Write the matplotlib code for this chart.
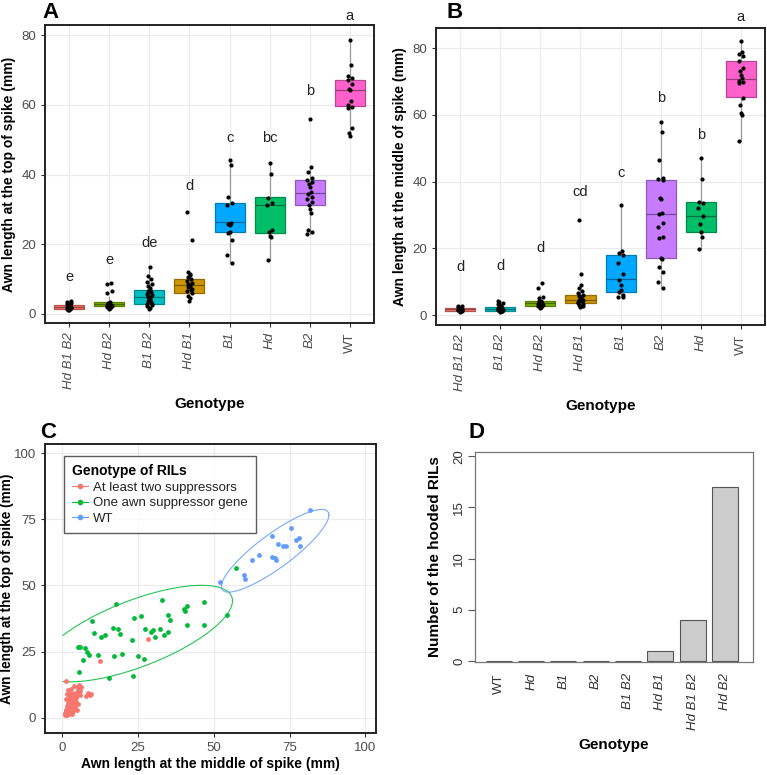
"""Awn length of RIL genotypes: boxplots (A, B), scatter with ellipses (C), hooded counts (D)."""
import matplotlib
matplotlib.use("Agg")
import matplotlib.pyplot as plt  # noqa: E402
import numpy as np  # noqa: E402
from matplotlib.lines import Line2D  # noqa: E402

plt.rcParams["font.family"] = ["Liberation Sans", "DejaVu Sans"]

GENO_COLORS = {
    "Hd B1 B2": "#F8766D", "Hd B2": "#7CAE00", "B1 B2": "#00BFC4", "Hd B1": "#CD9600",
    "B1": "#00A9FF", "Hd": "#00BE67", "B2": "#C77CFF", "WT": "#FF61CC",
}

# ---- panel A: awn length at top of spike
a_geno = ["Hd B1 B2", "Hd B2", "B1 B2", "Hd B1", "B1", "Hd", "B2", "WT"]
a_q1 = [1.5, 2.3, 3.0, 6.0, 23.5, 23.3, 31.2, 59.6]
a_med = [2.0, 2.9, 5.0, 8.2, 26.5, 31.2, 34.8, 64.3]
a_q3 = [2.6, 3.5, 7.0, 10.0, 31.7, 33.5, 38.3, 67.0]
a_wlo = [1.0, 1.5, 1.5, 3.8, 14.6, 15.5, 22.8, 51.0]
a_whi = [3.7, 5.0, 13.5, 12.0, 44.3, 43.3, 42.2, 78.5]
a_pts = [
    [1.0, 1.3, 1.5, 1.7, 1.9, 2.0, 2.2, 2.4, 2.6, 2.9, 3.2, 3.5, 3.7, 1.2, 2.1],
    [1.5, 1.8, 2.0, 2.3, 2.5, 2.7, 3.0, 3.2, 3.5, 6.0, 6.5, 8.5, 8.8, 2.9, 2.6, 1.7, 3.1],
    [1.5, 1.8, 2.2, 2.6, 3.0, 3.3, 3.8, 4.2, 4.6, 5.0, 5.4, 5.8, 6.2, 6.6, 7.0, 7.4,
     8.0, 8.6, 9.3, 10.0, 11.0, 13.5, 4.0, 5.2, 2.9],
    [3.8, 4.5, 5.2, 6.0, 6.5, 7.0, 7.6, 8.0, 8.3, 8.6, 9.0, 9.5, 10.0, 10.6, 11.2,
     11.6, 12.0, 21.3, 29.3, 7.3],
    [44.3, 42.8, 33.5, 31.7, 31.4, 26.0, 25.8, 25.5, 23.5, 23.3, 21.3, 17.0, 14.6],
    [43.3, 40.2, 33.3, 31.8, 31.2, 24.0, 23.5, 22.5, 22.0, 15.5],
    [56.0, 42.2, 40.8, 39.0, 38.5, 38.0, 37.3, 36.5, 35.0, 34.5, 33.5, 33.0, 32.0,
     31.2, 30.0, 29.0, 24.2, 23.5, 22.8],
    [78.5, 71.3, 68.2, 67.8, 67.0, 66.0, 64.5, 64.2, 61.0, 60.0, 59.5, 59.2, 53.3, 52.0, 51.0],
]
a_letters = ["e", "e", "de", "d", "c", "bc", "b", "a"]
a_letter_y = [10.7, 15.5, 20.5, 36.7, 50.6, 50.6, 64.0, 85.5]

# ---- panel B: awn length at middle of spike
b_geno = ["Hd B1 B2", "B1 B2", "Hd B2", "Hd B1", "B1", "B2", "Hd", "WT"]
b_q1 = [1.3, 1.3, 2.8, 3.7, 7.0, 17.2, 25.0, 65.3]
b_med = [1.8, 1.8, 3.5, 4.6, 10.8, 30.4, 29.8, 70.8]
b_q3 = [2.2, 2.4, 4.2, 6.0, 18.0, 40.4, 34.0, 76.0]
b_wlo = [1.0, 1.0, 2.0, 2.3, 5.3, 8.2, 19.7, 52.3]
b_whi = [2.8, 4.2, 6.0, 9.0, 33.0, 57.8, 47.0, 82.0]
b_pts = [
    [1.0, 1.2, 1.4, 1.5, 1.6, 1.8, 1.9, 2.0, 2.2, 2.4, 2.6, 2.8, 1.1, 1.7, 2.1],
    [1.0, 1.2, 1.4, 1.6, 1.8, 2.0, 2.2, 2.5, 2.8, 3.2, 3.6, 4.2, 1.3, 1.5, 1.9, 2.4, 3.0,
     1.1, 2.1, 1.7, 3.9, 2.6, 1.4, 2.3, 1.8],
    [2.0, 2.3, 2.6, 2.9, 3.2, 3.5, 3.8, 4.0, 4.3, 5.0, 5.5, 8.0, 9.5, 3.1, 2.5, 3.7, 4.1],
    [2.3, 2.6, 3.0, 3.4, 3.8, 4.2, 4.6, 5.0, 5.3, 5.7, 6.0, 6.5, 7.2, 8.2, 9.0, 12.3,
     28.5, 4.4, 3.6, 2.8],
    [33.0, 19.2, 18.5, 18.0, 15.5, 12.3, 10.5, 9.0, 7.5, 7.0, 6.0, 5.5, 5.3],
    [57.8, 54.8, 46.5, 41.0, 40.8, 40.5, 35.0, 34.8, 30.5, 30.3, 27.5, 26.3, 23.3,
     23.0, 17.0, 16.8, 14.5, 12.8, 9.8, 8.2],
    [47.0, 40.8, 34.0, 33.5, 32.2, 29.7, 27.2, 25.0, 23.3, 19.7],
    [82.0, 78.8, 78.2, 77.5, 76.0, 74.0, 73.0, 72.0, 71.0, 70.0, 69.8, 69.5, 65.0,
     63.0, 60.5, 60.0, 52.3],
]
b_letters = ["d", "d", "d", "cd", "c", "b", "b", "a"]
b_letter_y = [14.5, 14.7, 20.0, 37.0, 42.6, 65.0, 54.0, 89.2]

# ---- panel C: middle (x) vs top (y) per RIL group
c_groups = ["At least two suppressors", "One awn suppressor gene", "WT"]
c_colors = ["#F8766D", "#00BA38", "#619CFF"]
red_x = [1.2, 1.5, 1.8, 2.0, 1.4, 2.2, 1.6, 2.5, 1.0, 1.9, 2.7, 1.3, 2.1, 1.7, 2.4,
         1.2, 1.5, 1.8, 2.0, 2.3, 2.6, 3.0, 3.5, 4.2, 1.4, 2.0, 3.2, 1.9, 2.8, 3.8,
         1.6, 2.4, 3.1, 1.3, 2.2, 4.0, 5.5, 5.8,
         2.5, 3.0, 3.3, 3.6, 4.0, 4.5, 5.0, 3.8, 4.8, 6.0, 9.2, 8.0, 3.4, 2.8, 5.3, 4.2, 3.1,
         2.5, 3.0, 3.5, 4.0, 4.5, 5.0, 5.5, 6.0, 3.2, 4.3, 5.2, 6.3, 4.8, 3.7, 9.8, 8.6,
         2.8, 12.6, 28.5, 5.7]
red_y = [1.5, 2.0, 1.2, 2.5, 3.0, 1.8, 2.2, 3.5, 1.0, 2.8, 2.0, 1.7, 3.2, 2.4, 1.4,
         1.8, 3.0, 4.5, 5.5, 6.5, 7.5, 4.0, 5.0, 8.0, 13.8, 10.5, 11.0, 9.0, 3.5, 6.0,
         2.5, 8.5, 9.5, 7.0, 3.0, 12.0, 11.8, 11.0,
         2.0, 2.8, 3.2, 2.5, 3.5, 4.0, 3.0, 6.5, 6.0, 8.5, 8.8, 8.2, 1.6, 2.2, 5.2, 4.8, 3.8,
         4.0, 5.5, 6.5, 7.0, 8.0, 8.5, 9.0, 10.0, 7.8, 9.5, 10.5, 11.5, 7.5, 8.8, 9.2, 9.5,
         6.0, 21.6, 29.6, 12.3]
green_x = [17.9, 33.0, 9.9, 10.6, 12.8, 14.4, 17.0, 18.4, 19.1, 23.7, 26.2, 23.2, 27.4,
           29.4, 30.0, 30.7, 32.2, 33.8, 34.9, 34.9, 35.7, 40.3, 40.6, 41.2, 41.2, 46.7,
           47.0, 54.4, 57.4, 5.2, 6.1, 7.6, 8.2, 8.9, 7.0, 5.7, 12.1, 17.2, 19.8, 25.0,
           27.0, 15.6, 23.5]
green_y = [43.0, 44.5, 36.7, 31.9, 30.6, 31.2, 34.0, 33.7, 31.8, 37.6, 38.4, 29.3, 33.7,
           32.5, 33.3, 30.4, 33.7, 31.2, 32.3, 39.0, 36.9, 41.1, 40.5, 42.4, 35.2, 35.0,
           43.8, 38.9, 56.4, 26.9, 26.7, 26.4, 24.7, 23.8, 21.8, 17.4, 23.6, 23.3, 24.2,
           23.5, 22.4, 15.1, 15.8]
blue_x = [81.8, 75.6, 69.3, 71.2, 72.8, 73.7, 77.2, 78.0, 78.3, 65.1, 62.7, 69.4, 70.1,
          70.6, 59.9, 60.3, 52.1]
blue_y = [78.6, 71.6, 68.6, 65.8, 64.8, 64.8, 67.3, 68.1, 64.8, 61.4, 59.7, 60.6, 60.4,
          59.6, 53.8, 52.3, 51.3]

# ---- panel D: hooded RILs per genotype
d_geno = ["WT", "Hd", "B1", "B2", "B1 B2", "Hd B1", "Hd B1 B2", "Hd B2"]
d_count = [0, 0, 0, 0, 0, 1, 4, 17]

GRID = "#EBEBEB"
TICK = "#4D4D4D"


def _darker(hexcol, f=0.72):
    rgb = np.array(matplotlib.colors.to_rgb(hexcol))
    return tuple(rgb * f)


def _gg_axes(ax):
    ax.set_facecolor("white")
    ax.grid(True, color=GRID, lw=0.8)
    ax.set_axisbelow(True)
    for s in ax.spines.values():
        s.set_linewidth(1.4)
        s.set_color("#222222")
    ax.tick_params(length=3, width=0.8, color="#333333", labelcolor=TICK, labelsize=9.5)


def box_panel(ax, geno, q1, med, q3, wlo, whi, pts, letters, letter_y, ylabel, ylim):
    stats = [dict(q1=a, med=m, q3=b, whislo=lo, whishi=hi, fliers=[])
             for a, m, b, lo, hi in zip(q1, med, q3, wlo, whi)]
    pos = np.arange(1, len(geno) + 1)
    bp = ax.bxp(stats, positions=pos, widths=0.75, patch_artist=True, showcaps=False,
                showfliers=False, whiskerprops=dict(color="#9A9A9A", lw=0.9),
                medianprops=dict(lw=0.9), boxprops=dict(lw=0.9), zorder=2)
    for g, patch, medl in zip(geno, bp["boxes"], bp["medians"]):
        patch.set_facecolor(GENO_COLORS[g])
        patch.set_edgecolor(_darker(GENO_COLORS[g]))
        medl.set_color(_darker(GENO_COLORS[g], 0.6))
    for i, vals in enumerate(pts):
        vals = np.asarray(vals)
        jit = 0.06 * np.sin(np.arange(len(vals)) * 2.7)  # fixed small jitter
        ax.scatter(pos[i] + jit, vals, s=9, color="black", zorder=3, lw=0)
    for i, (lab, yv) in enumerate(zip(letters, letter_y)):
        ax.text(pos[i], yv, lab, ha="center", va="center", fontsize=10.5,
                color="#222222", clip_on=False)
    ax.set_xlim(0.4, len(geno) + 0.6)
    ax.set_ylim(*ylim)
    ax.set_yticks([0, 20, 40, 60, 80])
    ax.set_xticks(pos)
    ax.set_xticklabels(geno, rotation=90)
    for t, g in zip(ax.get_xticklabels(), geno):
        t.set_fontstyle("normal" if g == "WT" else "italic")
    _gg_axes(ax)
    ax.set_ylabel(ylabel, fontsize=10, fontweight="bold", labelpad=4)
    ax.set_xlabel("Genotype", fontsize=11, fontweight="bold", labelpad=6)


def _cov_trob(X, nu=5, iters=100):
    # multivariate-t scale estimate, as MASS::cov.trob (used by stat_ellipse type "t")
    n, p = X.shape
    w = np.ones(n)
    for _ in range(iters):
        loc = (w[:, None] * X).sum(0) / w.sum()
        D = X - loc
        cov = (w[:, None] * D).T @ D / n
        q = np.einsum("ij,jk,ik->i", D, np.linalg.inv(cov), D)
        w_new = (nu + p) / (nu + q)
        if np.allclose(w_new, w, atol=1e-8):
            break
        w = w_new
    return loc, cov


def ellipse_pts(x, y, level=0.95, n=200):
    X = np.column_stack([x, y]).astype(float)
    d2 = len(X) - 1
    fq = d2 / 2.0 * ((1 - level) ** (-2.0 / d2) - 1)
    radius = np.sqrt(2 * fq)
    loc, cov = _cov_trob(X)
    L = np.linalg.cholesky(cov)
    th = np.linspace(0, 2 * np.pi, n)
    circ = np.column_stack([np.cos(th), np.sin(th)])
    e = loc + radius * circ @ L.T
    ex, ey = e[:, 0], e[:, 1]
    # scale limits are 0..100, so parts of the path outside are dropped
    out = (ex < 0) | (ey < 0) | (ex > 100) | (ey > 100)
    ex[out] = np.nan
    ey[out] = np.nan
    return ex, ey


fig = plt.figure(figsize=(7.67, 7.75), dpi=100)
axA = fig.add_axes([0.0587, 0.5832, 0.4289, 0.3845])
axB = fig.add_axes([0.5685, 0.5806, 0.4289, 0.3832])
axC = fig.add_axes([0.0587, 0.0542, 0.4316, 0.3729])
axD = fig.add_axes([0.6193, 0.1458, 0.3625, 0.2710])

box_panel(axA, a_geno, a_q1, a_med, a_q3, a_wlo, a_whi, a_pts, a_letters, a_letter_y,
          "Awn length at the top of spike (mm)", (-2.6, 82.9))
box_panel(axB, b_geno, b_q1, b_med, b_q3, b_wlo, b_whi, b_pts, b_letters, b_letter_y,
          "Awn length at the middle of spike (mm)", (-3.0, 86.0))

# C
for (xs, ys), col in zip([(red_x, red_y), (green_x, green_y), (blue_x, blue_y)], c_colors):
    axC.scatter(xs, ys, s=12, color=col, lw=0, zorder=3)
for (xs, ys), col in zip([(green_x, green_y), (blue_x, blue_y)], c_colors[1:]):
    ex, ey = ellipse_pts(xs, ys)
    axC.plot(ex, ey, color=col, lw=0.8, alpha=0.85, zorder=2)
axC.set_xlim(-5.5, 103.5)
axC.set_ylim(-5.7, 103.4)
axC.set_xticks([0, 25, 50, 75, 100])
axC.set_yticks([0, 25, 50, 75, 100])
_gg_axes(axC)
axC.set_xlabel("Awn length at the middle of spike (mm)", fontsize=10, fontweight="bold", labelpad=2)
axC.set_ylabel("Awn length at the top of spike (mm)", fontsize=9.8, fontweight="bold", labelpad=0)
handles = [Line2D([], [], color=c, marker="o", ms=3, lw=0.8) for c in c_colors]
leg = axC.legend(handles, c_groups, title="Genotype of RILs", loc="upper left",
                 bbox_to_anchor=(0.057, 0.958), fontsize=9.5, frameon=True, fancybox=False,
                 handlelength=1.2, handletextpad=0.4, borderpad=0.6, labelspacing=0.25,
                 borderaxespad=0)
leg.get_title().set_fontweight("bold")
leg.get_title().set_fontsize(10)
leg._legend_box.align = "left"
leg.get_frame().set_edgecolor("#333333")
leg.get_frame().set_linewidth(1.0)
for t in leg.get_texts():
    t.set_color("#222222")

# D: base-R style barplot
dpos = np.arange(len(d_geno))
axD.bar(dpos, d_count, width=0.805, color="#CCCCCC", edgecolor="#555555", lw=0.8)
axD.set_xlim(-0.74, 7.87)
axD.set_ylim(-0.1, 20.42)
axD.set_yticks([0, 5, 10, 15, 20])
axD.set_yticklabels(["0", "5", "10", "15", "20"], rotation=90, va="center")
axD.set_xticks(dpos)
axD.set_xticklabels(d_geno, rotation=90)
for t, g in zip(axD.get_xticklabels(), d_geno):
    t.set_fontstyle("normal" if g == "WT" else "italic")
for s in axD.spines.values():
    s.set_color("#777777")
    s.set_linewidth(0.9)
axD.tick_params(axis="y", length=5, color="#555555", labelcolor="#333333", labelsize=9.5, pad=2)
axD.tick_params(axis="x", length=0, labelcolor="#333333", labelsize=9.5, pad=8)
axD.set_ylabel("Number of the hooded RILs", fontsize=11, fontweight="bold", labelpad=8)
axD.set_xlabel("Genotype", fontsize=11, fontweight="bold", labelpad=6)

for lab, (x, y) in zip("ABCD", [(42, 12), (447, 12), (40, 433), (469, 433)]):
    fig.text(x / 767, 1 - y / 775, lab, fontsize=16, fontweight="bold", va="center", ha="left")

fig.savefig("out.png", dpi=100)
plt.close(fig)
